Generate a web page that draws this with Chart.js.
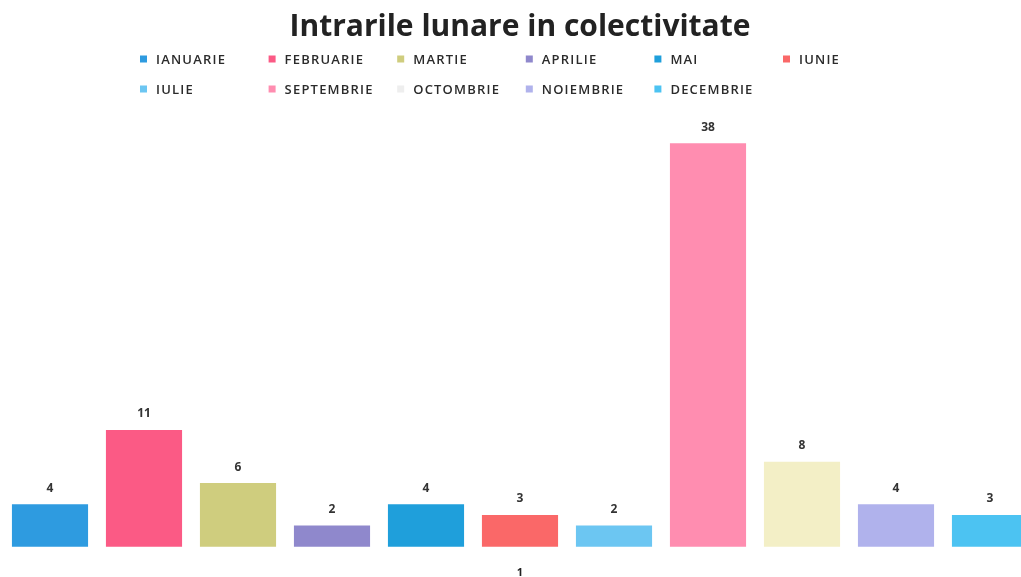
<!DOCTYPE html>
<html>
<head>
<meta charset="utf-8">
<script src="https://cdn.jsdelivr.net/npm/chart.js@4.4.1/dist/chart.umd.min.js"></script>
<style>
  html, body { margin: 0; padding: 0; background: #fff; overflow: hidden; }
  #wrap { position: relative; width: 1040px; height: 598px; }
</style>
</head>
<body>
<div id="wrap"><canvas id="grafic"></canvas></div>
<script>
const categorii = ['1'];
const luni = ['IANUARIE', 'FEBRUARIE', 'MARTIE', 'APRILIE', 'MAI', 'IUNIE',
              'IULIE', 'SEPTEMBRIE', 'OCTOMBRIE', 'NOIEMBRIE', 'DECEMBRIE'];
const intrari = [4, 11, 6, 2, 4, 3, 2, 38, 8, 4, 3];
const culori = ['#2e9be0', '#fb5a85', '#cfcd7e', '#8f88cc', '#1f9fdb', '#fa6868',
                '#6cc6f2', '#ff8db0', '#f3efc6', '#b0b2ec', '#4cc3f2'];

// legenda pe coloane fixe, ca in original
const legendaGrila = {
    id: 'legendaGrila',
    afterDraw(chart) {
        const ctx = chart.ctx;
        ctx.save();
        ctx.font = '600 13px "Open Sans"';
        ctx.letterSpacing = '1.2px';
        ctx.textBaseline = 'middle';
        ctx.textAlign = 'left';
        luni.forEach((nume, i) => {
            const col = i % 6, rand = Math.floor(i / 6);
            const x = 140 + col * 128.6;
            const y = 59 + rand * 30;
            ctx.fillStyle = i === 8 ? '#eeeeee' : culori[i];
            ctx.fillRect(x, y - 3.5, 7, 7);
            ctx.fillStyle = '#2b2b2b';
            ctx.fillText(nume, x + 16, y + 1);
        });
        ctx.restore();
    }
};

// valorile deasupra barelor
const etichete = {
    id: 'etichete',
    afterDatasetsDraw(chart) {
        const ctx = chart.ctx;
        ctx.save();
        ctx.font = 'bold 12px "Open Sans"';
        ctx.fillStyle = '#333';
        ctx.textAlign = 'center';
        ctx.textBaseline = 'middle';
        chart.data.datasets.forEach((ds, i) => {
            chart.getDatasetMeta(i).data.forEach((bar, j) => {
                ctx.fillText(ds.data[j], bar.x, bar.y - 16);
            });
        });
        ctx.restore();
    }
};

const ctx = document.getElementById('grafic').getContext('2d');
const chart = new Chart(ctx, {
    type: 'bar',
    data: {
        labels: categorii,
        datasets: luni.map((nume, i) => ({
            label: nume,
            data: [intrari[i]],
            backgroundColor: culori[i],
            borderWidth: 0,
            barPercentage: 0.81,
            categoryPercentage: 1,
            clip: false
        }))
    },
    options: {
        responsive: true,
        maintainAspectRatio: false,
        animation: false,
        layout: { padding: { left: 3, right: 3, top: 0, bottom: 0 } },
        scales: {
            x: {
                grid: { display: false, drawTicks: false },
                border: { display: false },
                ticks: {
                    padding: 19,
                    color: '#222',
                    font: { family: 'Open Sans', size: 11, weight: 'bold' }
                }
            },
            y: {
                display: false,
                min: 0,
                max: 40
            }
        },
        plugins: {
            legend: { display: false },
            tooltip: { enabled: false },
            title: {
                display: true,
                text: 'Intrarile lunare in colectivitate',
                color: '#222',
                font: { family: 'Open Sans', size: 30, weight: 'bold' },
                padding: { top: 9, bottom: 77 }
            }
        }
    },
    plugins: [legendaGrila, etichete]
});
</script>
</body>
</html>
